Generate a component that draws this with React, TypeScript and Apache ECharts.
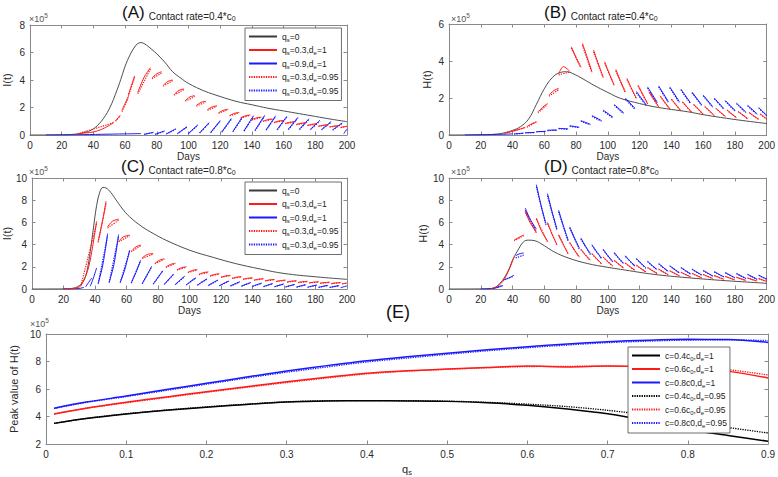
import React, { useEffect, useRef } from "react";
import * as echarts from "echarts";

const FONT = "Liberation Sans, Arial, sans-serif";

// ---------- axis ranges / ticks ----------
const DAY_RANGE = [0, 200, 20];
const Q_RANGE = [0, 0.9, 0.1];
const Y_RANGES = [
  [0, 8, 2],
  [0, 6, 2],
  [0, 10, 2],
  [0, 10, 2],
  [2, 10, 2],
];
const Y_NAMES = ["I(t)", "H(t)", "I(t)", "H(t)", "Peak value of H(t)"];
const Q_TICK_LABELS = ["0", "0.1", "0.2", "0.3", "0.4", "0.5", "0.6", "0.7", "0.8", "0.9"];

// ---------- legend labels ----------
const LEGEND_TOP = ["q_s=0", "q_s=0.3,d_e=1", "q_s=0.9,d_e=1", "q_s=0.3,d_e=0.95", "q_s=0.3,d_e=0.95"];
const LEGEND_E = ["c=0.4c_0,d_e=1", "c=0.6c_0,d_e=1", "c=0.8c0,d_e=1", "c=0.4c_0,d_e=0.95", "c=0.6c_0,d_e=0.95", "c=0.8c0,d_e=0.95"];

// ---------- (A) I(t), contact 0.4c0  (values x1e5) ----------
const A_BLACK = [[0,0],[20,0.01],[30,0.08],[35,0.2],[40,0.45],[45,1.0],[50,1.9],[55,3.3],[58,4.3],[60,5.0],[63,5.8],[66,6.4],[68,6.65],[70,6.72],[72,6.65],[75,6.4],[80,5.9],[85,5.3],[90,4.6],[95,4.15],[100,3.75],[110,3.2],[120,2.8],[130,2.45],[140,2.2],[150,1.95],[160,1.75],[170,1.55],[180,1.35],[190,1.15],[200,0.97]];
const A_RED = [
  [30,0.1,35,0.15,40,0.22,45,0.4,50,0.7,53,0.95],
  [54,1.05,56,1.3,57,1.45],
  [58,1.8,60,2.3,62,2.8],
  [62,2.9,64,3.6,66,4.3],
  [68,3.1,72,4.2,76,4.9],
  [77,4.15,80,4.45,83,4.6],
  [84,3.6,87,3.9,90,4.0],
  [91,2.95,94,3.25,97,3.35],
  [98,2.5,101,2.78,104,2.85],
  [105,2.15,108,2.38,111,2.45],
  [112,1.85,115,2.05,118,2.12],
  [119,1.62,122,1.8,125,1.87],
  [126,1.42,129,1.58,132,1.64],
  [133,1.26,136,1.4,139,1.46],
  [140,1.12,143,1.25,146,1.3],
  [147,1.0,150,1.12,153,1.17],
  [154,0.92,157,1.02,160,1.06],
  [161,0.84,164,0.93,167,0.97],
  [168,0.77,171,0.85,174,0.89],
  [175,0.7,178,0.78,181,0.82],
  [182,0.64,185,0.71,188,0.75],
  [189,0.59,192,0.65,195,0.68],
  [196,0.55,198,0.6,200,0.64],
];
const A_BLUE = [
  [10,0,30,0.02,45,0.05,60,0.08,70,0.1],
  [72,0.05,78,0.2],
  [79,0.05,85,0.3],
  [86,0.08,92,0.45],
  [93,0.1,99,0.6],
  [100,0.12,106,0.75],
  [107,0.15,113,0.9],
  [114,0.18,120,1.05],
  [121,0.22,127,1.2],
  [128,0.26,134,1.32],
  [135,0.3,141,1.4],
  [142,0.34,148,1.42],
  [149,0.38,155,1.4],
  [156,0.4,162,1.35],
  [163,0.42,169,1.28],
  [170,0.42,176,1.18],
  [177,0.42,183,1.08],
  [184,0.4,190,0.98],
  [191,0.38,197,0.88],
  [198,0.1,200,0.45],
];
const A_RED_DOT = [[30,0.08,53,0.9],[54,1.0,57,1.4],[58,1.7,62,2.7],[62,2.8,66,4.2],[68,3.0,76,4.8],[77,4.1,83,4.5],[84,3.55,90,3.95],[91,2.9,97,3.3],[98,2.45,104,2.8],[105,2.1,111,2.4],[112,1.8,118,2.08],[119,1.58,125,1.84],[126,1.39,132,1.62],[133,1.23,139,1.44],[140,1.1,146,1.28],[147,0.98,153,1.15],[154,0.9,160,1.04],[161,0.82,167,0.95],[168,0.75,174,0.87],[175,0.69,181,0.8],[182,0.63,188,0.73],[189,0.58,195,0.67],[196,0.54,200,0.62]];
const A_BLUE_DOT = [[72,0.04,78,0.18],[79,0.05,85,0.28],[86,0.07,92,0.42],[93,0.09,99,0.57],[100,0.11,106,0.72],[107,0.14,113,0.86],[114,0.17,120,1.0],[121,0.2,127,1.14],[128,0.24,134,1.26],[135,0.28,141,1.34],[142,0.32,148,1.37],[149,0.35,155,1.35],[156,0.37,162,1.3],[163,0.39,169,1.22],[170,0.39,176,1.13],[177,0.39,183,1.03],[184,0.38,190,0.93],[191,0.36,197,0.84]];

// ---------- (B) H(t), contact 0.4c0 ----------
const B_BLACK = [[0,0],[20,0.01],[30,0.05],[35,0.12],[40,0.25],[45,0.45],[50,0.85],[55,1.65],[60,2.5],[65,3.1],[70,3.38],[74,3.42],[78,3.32],[85,3.0],[91,2.7],[100,2.3],[108,1.98],[120,1.7],[129,1.53],[140,1.38],[150,1.26],[160,1.1],[171,0.95],[185,0.78],[200,0.62]];
const B_RED = [
  [35,0.1,40,0.2,45,0.32,48,0.42],
  [49,0.45,52,0.6,55,0.72],
  [56,1.25,59,1.5,62,1.7],
  [63,2.16,66,2.4,69,2.52],
  [69,3.3,72,3.7,76,3.45],
  [77,4.77,80,4.2,83,3.69],
  [84,4.96,87,4.2,90,3.42],
  [91,4.6,94,3.85,97,3.15],
  [98,3.96,101,3.3,104,2.7],
  [105,3.55,108,2.9,111,2.34],
  [112,3.06,115,2.5,118,1.98],
  [119,2.7,122,2.2,125,1.71],
  [126,2.34,129,1.92,132,1.53],
  [133,2.12,136,1.76,139,1.42],
  [140,1.95,143,1.62,146,1.32],
  [147,1.8,150,1.5,153,1.22],
  [154,1.66,157,1.4,160,1.13],
  [161,1.55,164,1.3,167,1.06],
  [168,1.45,171,1.22,174,1.0],
  [175,1.36,178,1.14,181,0.94],
  [182,1.28,185,1.08,188,0.89],
  [189,1.22,192,1.02,195,0.85],
  [196,1.15,198,1.0,200,0.86],
];
const B_BLUE = [
  [10,0,30,0.03,40,0.06],
  [41,0.06,47,0.1],
  [48,0.12,54,0.14],
  [55,0.18,61,0.2],
  [62,0.26,68,0.27],
  [69,0.36,75,0.33],
  [76,0.5,82,0.42],
  [83,0.78,89,0.58],
  [90,1.05,96,0.78],
  [97,1.35,103,0.98],
  [104,1.65,110,1.2],
  [111,2.0,117,1.45],
  [118,2.35,124,1.65],
  [125,2.6,131,1.78],
  [132,2.65,138,1.82],
  [139,2.6,145,1.8],
  [146,2.48,152,1.74],
  [153,2.32,159,1.64],
  [160,2.16,166,1.54],
  [167,2.0,173,1.43],
  [174,1.86,180,1.33],
  [181,1.72,187,1.23],
  [188,1.6,194,1.14],
  [195,1.48,200,1.06],
];
const B_RED_DOT = [[35,0.1,48,0.4],[49,0.42,55,0.7],[56,1.2,62,1.65],[63,2.1,69,2.45],[69,3.25,76,3.4],[77,4.7,83,3.62],[84,4.85,90,3.35],[91,4.5,97,3.1],[98,3.88,104,2.66],[105,3.47,111,2.3],[112,3.0,118,1.95],[119,2.64,125,1.68],[126,2.3,132,1.5],[133,2.08,139,1.4],[140,1.92,146,1.3],[147,1.77,153,1.2],[154,1.64,160,1.12],[161,1.53,167,1.05],[168,1.43,174,0.99],[175,1.34,181,0.93],[182,1.26,188,0.88],[189,1.2,195,0.84],[196,1.13,200,0.85]];
const B_BLUE_DOT = [[41,0.05,47,0.09],[48,0.11,54,0.13],[55,0.17,61,0.19],[62,0.24,68,0.25],[69,0.34,75,0.31],[76,0.47,82,0.4],[83,0.74,89,0.55],[90,1.0,96,0.74],[97,1.3,103,0.94],[104,1.6,110,1.15],[111,1.94,117,1.4],[118,2.28,124,1.6],[125,2.54,131,1.73],[132,2.6,138,1.77],[139,2.55,145,1.76],[146,2.43,152,1.7],[153,2.28,159,1.6],[160,2.12,166,1.5],[167,1.96,173,1.4],[174,1.82,180,1.3],[181,1.69,187,1.2],[188,1.57,194,1.11],[195,1.45,200,1.04]];

// ---------- (C) I(t), contact 0.8c0 ----------
const C_BLACK = [[0,0],[20,0.01],[25,0.05],[30,0.3],[33,0.8],[35,1.7],[37,3.4],[39,5.5],[41,7.5],[43,8.7],[45,9.15],[47,9.1],[50,8.7],[53,8.1],[57,7.3],[62,6.5],[70,5.6],[77,5.0],[85,4.4],[100,3.5],[115,2.85],[129,2.3],[145,1.8],[160,1.4],[180,1.1],[200,0.87]];
const C_RED = [
  [20,0.01,27,0.05,31,0.3,36,2.0,41,6.1],
  [42,4.3,45,6.3,47,7.9],
  [48,5.6,51,6.1,55,6.3],
  [55,4.3,58,4.7,62,4.85],
  [63,3.4,66,3.8,69,3.95],
  [70,2.8,73,3.1,77,3.2],
  [78,2.3,81,2.6,84,2.72],
  [85,1.98,88,2.22,91,2.32],
  [92,1.72,95,1.92,98,2.0],
  [99,1.5,102,1.68,105,1.75],
  [106,1.32,109,1.48,112,1.54],
  [113,1.18,116,1.32,119,1.37],
  [120,1.06,123,1.18,126,1.23],
  [127,0.96,130,1.07,133,1.11],
  [134,0.88,137,0.97,140,1.01],
  [141,0.8,144,0.89,147,0.93],
  [148,0.74,151,0.82,154,0.86],
  [155,0.68,158,0.76,161,0.8],
  [162,0.63,165,0.71,168,0.74],
  [169,0.59,172,0.66,175,0.69],
  [176,0.55,179,0.62,182,0.65],
  [183,0.52,186,0.58,189,0.61],
  [190,0.49,193,0.55,196,0.58],
  [197,0.47,199,0.52,200,0.54],
];
const C_BLUE = [
  [20,0,30,0.05,33,0.15],
  [34,0.2,36,0.6,38,1.0],
  [37,0.25,39,1.0,41,1.9],
  [42,0.5,45,2.2,48,5.0],
  [49,0.6,52,2.2,55,4.9],
  [56,0.6,59,1.8,62,3.5],
  [63,0.55,66,1.5,69,2.6],
  [70,0.5,73,1.25,76,2.05],
  [77,0.45,80,1.05,83,1.65],
  [84,0.42,87,0.9,90,1.36],
  [91,0.4,94,0.8,97,1.16],
  [98,0.37,101,0.72,104,1.02],
  [105,0.34,108,0.65,111,0.9],
  [112,0.32,115,0.58,118,0.8],
  [119,0.3,122,0.53,125,0.72],
  [126,0.28,129,0.48,132,0.65],
  [133,0.26,136,0.44,139,0.59],
  [140,0.24,143,0.4,146,0.54],
  [147,0.22,150,0.37,153,0.5],
  [154,0.2,157,0.34,160,0.46],
  [161,0.19,164,0.31,167,0.42],
  [168,0.17,171,0.29,174,0.39],
  [175,0.16,178,0.27,181,0.36],
  [182,0.15,185,0.25,188,0.33],
  [189,0.14,192,0.23,195,0.31],
  [196,0.12,198,0.2,200,0.28],
];
const C_RED_DOT = [[31,0.3,41,5.9],[42,4.2,47,7.7],[48,5.5,55,6.2],[55,4.25,62,4.8],[63,3.35,69,3.9],[70,2.76,77,3.15],[78,2.27,84,2.68],[85,1.95,91,2.28],[92,1.7,98,1.97],[99,1.48,105,1.72],[106,1.3,112,1.51],[113,1.16,119,1.35],[120,1.05,126,1.21],[127,0.95,133,1.09],[134,0.87,140,0.99],[141,0.79,147,0.91],[148,0.73,154,0.84],[155,0.67,161,0.78],[162,0.62,168,0.72],[169,0.58,175,0.67],[176,0.54,182,0.63],[183,0.51,189,0.6],[190,0.48,196,0.57],[197,0.46,200,0.53]];
const C_BLUE_DOT = [[42,0.48,48,4.8],[49,0.58,55,4.8],[56,0.58,62,3.45],[63,0.53,69,2.55],[70,0.48,76,2.0],[77,0.44,83,1.62],[84,0.41,90,1.33],[91,0.39,97,1.14],[98,0.36,104,1.0],[105,0.33,111,0.88],[112,0.31,118,0.78],[119,0.29,125,0.7],[126,0.27,132,0.63],[133,0.25,139,0.57],[140,0.23,146,0.52],[147,0.21,153,0.48],[154,0.2,160,0.45],[161,0.18,167,0.41],[168,0.17,174,0.38],[175,0.16,181,0.35],[182,0.15,188,0.32],[189,0.14,195,0.3]];

// ---------- (D) H(t), contact 0.8c0 ----------
const D_BLACK = [[0,0],[20,0.01],[27,0.05],[32,0.5],[37,1.56],[40,2.6],[43,3.4],[47,4.26],[50,4.4],[54,4.35],[60,3.9],[66,3.36],[75,2.8],[87,2.3],[100,1.95],[108,1.77],[129,1.32],[150,1.02],[171,0.78],[185,0.65],[200,0.51]];
const D_RED = [
  [26,0.02,30,0.2,34,0.7,38,1.8,41,2.9],
  [41,4.4,44,4.65,47,4.85],
  [48,7.0,51,6.0,55,5.1],
  [55,6.4,58,5.3,62,4.3],
  [62,6.0,65,4.9,68,4.0],
  [69,4.9,72,4.0,75,3.2],
  [76,4.2,79,3.5,82,2.9],
  [83,3.6,86,3.05,89,2.6],
  [90,3.2,93,2.72,96,2.3],
  [97,2.9,100,2.46,103,2.1],
  [104,2.6,107,2.22,110,1.9],
  [111,2.35,114,2.0,117,1.7],
  [118,2.15,121,1.82,124,1.55],
  [125,1.95,128,1.66,131,1.42],
  [132,1.8,135,1.53,138,1.3],
  [139,1.65,142,1.41,145,1.2],
  [146,1.52,149,1.3,152,1.1],
  [153,1.42,156,1.21,159,1.02],
  [160,1.32,163,1.12,166,0.95],
  [167,1.22,170,1.04,173,0.88],
  [174,1.14,177,0.97,180,0.82],
  [181,1.07,184,0.91,187,0.77],
  [188,1.0,191,0.85,194,0.72],
  [195,0.95,198,0.78,200,0.7],
];
const D_BLUE = [
  [20,0,28,0.05,32,0.2,34,0.3],
  [34,0.8,37,0.95,41,1.25],
  [42,3.0,44,3.15,47,3.25],
  [48,7.3,51,6.3,55,5.4],
  [55,9.4,58,7.5,61,5.9],
  [62,8.6,65,6.9,68,5.4],
  [69,7.1,72,5.7,75,4.4],
  [76,5.6,79,4.6,82,3.7],
  [83,4.6,86,3.85,89,3.2],
  [90,4.0,93,3.35,96,2.8],
  [97,3.6,100,3.0,103,2.5],
  [104,3.3,107,2.75,110,2.3],
  [111,3.0,114,2.5,117,2.1],
  [118,2.75,121,2.3,124,1.9],
  [125,2.5,128,2.1,131,1.75],
  [132,2.3,135,1.93,138,1.6],
  [139,2.1,142,1.77,145,1.48],
  [146,1.95,149,1.65,152,1.38],
  [153,1.8,156,1.52,159,1.28],
  [160,1.68,163,1.42,166,1.18],
  [167,1.57,170,1.32,173,1.1],
  [174,1.48,177,1.24,180,1.02],
  [181,1.4,184,1.17,187,0.95],
  [188,1.32,191,1.1,194,0.88],
  [195,1.25,198,1.02,200,0.9],
];
const D_RED_DOT = [[41,4.35,47,4.8],[48,6.9,55,5.05],[55,6.3,62,4.25],[62,5.9,68,3.95],[69,4.85,75,3.15],[76,4.15,82,2.85],[83,3.55,89,2.55],[90,3.15,96,2.26],[97,2.86,103,2.06],[104,2.56,110,1.87],[111,2.32,117,1.67],[118,2.12,124,1.53],[125,1.92,131,1.4],[132,1.77,138,1.28],[139,1.63,145,1.18],[146,1.5,152,1.09],[153,1.4,159,1.0],[160,1.3,166,0.94],[167,1.2,173,0.87],[174,1.12,180,0.81],[181,1.05,187,0.76],[188,0.98,194,0.71],[195,0.93,200,0.69]];
const D_BLUE_DOT = [[28,0.05,34,0.35],[35,0.85,41,1.15],[42,2.8,47,3.05],[48,7.1,55,5.2],[55,9.2,61,5.75],[62,8.4,68,5.25],[69,6.95,75,4.3],[76,5.5,82,3.6],[83,4.5,89,3.1],[90,3.92,96,2.74],[97,3.53,103,2.45],[104,3.23,110,2.25],[111,2.94,117,2.06],[118,2.7,124,1.86],[125,2.45,131,1.72],[132,2.25,138,1.57],[139,2.06,145,1.45],[146,1.91,152,1.35],[153,1.77,159,1.25],[160,1.65,166,1.16],[167,1.54,173,1.08],[174,1.45,180,1.0],[181,1.37,187,0.93],[188,1.3,194,0.87],[195,1.23,200,0.88]];

// ---------- (E) peak of H(t) vs q_s ----------
const QS = [0.01,0.05,0.1,0.15,0.2,0.25,0.3,0.35,0.4,0.45,0.5,0.55,0.6,0.65,0.7,0.75,0.8,0.85,0.9];
const E_C04 = [3.5,3.85,4.18,4.45,4.67,4.88,5.05,5.13,5.15,5.13,5.1,5.0,4.82,4.55,4.2,3.68,3.05,2.62,2.2];
const E_C06 = [4.18,4.6,5.03,5.42,5.8,6.17,6.53,6.85,7.14,7.32,7.45,7.57,7.67,7.6,7.67,7.62,7.5,7.3,6.8];
const E_C08 = [4.6,5.05,5.49,5.96,6.41,6.87,7.31,7.7,8.06,8.35,8.6,8.85,9.08,9.27,9.44,9.55,9.61,9.6,9.39];
const E_C04_DOT = [3.5,3.86,4.2,4.47,4.7,4.9,5.07,5.15,5.16,5.15,5.12,5.03,4.9,4.72,4.45,4.1,3.6,3.2,2.8];
const E_C06_DOT = [4.18,4.6,5.0,5.38,5.76,6.12,6.47,6.8,7.1,7.3,7.43,7.55,7.63,7.65,7.66,7.62,7.55,7.4,7.02];
const E_C08_DOT = [4.58,5.02,5.45,5.9,6.35,6.8,7.22,7.6,7.97,8.25,8.52,8.78,9.0,9.2,9.37,9.48,9.56,9.58,9.52];

// ---------- layout ----------
const GRIDS = [
  { left: 27, top: 25, width: 320, height: 110 },
  { left: 449, top: 24, width: 320, height: 111 },
  { left: 27, top: 178, width: 320, height: 111 },
  { left: 449, top: 178, width: 320, height: 111 },
  { left: 27, top: 334, width: 743, height: 110 },
];
const Y_NAME_GAPS = [10, 9, 12, 12, 13];

const AX = "#8a8a8a";
const LBL = "#2a2a2a";
const BLACK = "#3a3a3a";
const RED = "#ff1a1a";
const BLUE = "#1a1aff";

function segData(segs: number[][]) {
  const out: any[] = [];
  segs.forEach((s) => {
    for (let i = 0; i < s.length; i += 2) out.push([s[i], s[i + 1]]);
    out.push([s[s.length - 2], null]);
  });
  return out;
}

const toRich = (t: string) =>
  t
    .split(/_(.)/)
    .map((p, i) => (i % 2 ? `{s|${p}}` : p ? `{n|${p}}` : ""))
    .join("");

const RICH_LEG = {
  n: { fontSize: 8.5, lineHeight: 12, fontFamily: FONT, color: "#222" },
  s: { fontSize: 6, lineHeight: 6, verticalAlign: "bottom", fontFamily: FONT, color: "#222" },
};

function buildOption() {
  const xAxis: any[] = [];
  const yAxis: any[] = [];
  GRIDS.forEach((g, i) => {
    const xr = i < 4 ? DAY_RANGE : Q_RANGE;
    const yr = Y_RANGES[i];
    const base = {
      type: "value",
      gridIndex: i,
      axisLine: { show: true, onZero: false, lineStyle: { color: AX, width: 1 } },
      axisTick: { show: true, inside: true, length: 3.5, lineStyle: { color: AX, width: 1 } },
      splitLine: { show: false },
    };
    xAxis.push({
      ...base,
      min: xr[0],
      max: xr[1],
      interval: xr[2],
      position: "bottom",
      axisLabel: {
        show: true,
        margin: 5,
        fontSize: 10,
        color: LBL,
        fontFamily: FONT,
        formatter: i < 4 ? undefined : (v: number) => Q_TICK_LABELS[Math.round(v * 10)] ?? "",
      },
      name: i < 4 ? "Days" : "{n|q}{s|s}",
      nameLocation: "middle",
      nameGap: i < 4 ? 16 : 18,
      nameTextStyle: {
        fontSize: 10,
        color: LBL,
        fontFamily: FONT,
        rich: {
          n: { fontSize: 11, lineHeight: 14, color: LBL, fontFamily: FONT },
          s: { fontSize: 7.5, lineHeight: 8, verticalAlign: "bottom", color: LBL, fontFamily: FONT },
        },
      },
    });
    xAxis.push({
      ...base,
      min: xr[0],
      max: xr[1],
      interval: xr[2],
      position: "top",
      axisLabel: { show: false },
    });
    yAxis.push({
      ...base,
      min: yr[0],
      max: yr[1],
      interval: yr[2],
      position: "left",
      axisLabel: { show: true, margin: 5, fontSize: 10, color: LBL, fontFamily: FONT },
      name: Y_NAMES[i],
      nameLocation: "middle",
      nameGap: Y_NAME_GAPS[i] + 8,
      nameTextStyle: { fontSize: 11, color: LBL, fontFamily: FONT },
    });
    yAxis.push({
      ...base,
      min: yr[0],
      max: yr[1],
      interval: yr[2],
      position: "right",
      axisLabel: { show: false },
    });
  });

  const series: any[] = [];
  const line = (name: string, gi: number, data: any[], color: string, width: number, dotted: boolean, smooth = 0.3) => ({
    type: "line",
    name,
    xAxisIndex: gi * 2,
    yAxisIndex: gi * 2,
    data,
    symbol: "none",
    showSymbol: false,
    smooth,
    connectNulls: false,
    lineStyle: { color, width, type: dotted ? [1.3, 1.1] : "solid" },
    itemStyle: { color },
    emphasis: { disabled: true },
    silent: true,
  });

  const panels = [
    [A_BLACK, A_RED, A_BLUE, A_RED_DOT, A_BLUE_DOT],
    [B_BLACK, B_RED, B_BLUE, B_RED_DOT, B_BLUE_DOT],
    [C_BLACK, C_RED, C_BLUE, C_RED_DOT, C_BLUE_DOT],
    [D_BLACK, D_RED, D_BLUE, D_RED_DOT, D_BLUE_DOT],
  ];
  const tags = ["A", "B", "C", "D"];
  panels.forEach((p, gi) => {
    const t = tags[gi];
    series.push(line(`${t}0`, gi, p[0] as any[], BLACK, 0.9, false, 0.4));
    series.push(line(`${t}2`, gi, segData(p[2] as number[][]), BLUE, 1, false));
    series.push(line(`${t}4`, gi, segData(p[4] as number[][]), BLUE, 1.2, true));
    series.push(line(`${t}1`, gi, segData(p[1] as number[][]), RED, 1, false));
    series.push(line(`${t}3`, gi, segData(p[3] as number[][]), RED, 1.2, true));
  });
  const eData = (arr: number[]) => QS.map((q, i) => [q, arr[i]]);
  series.push(line("E0", 4, eData(E_C04), "#000", 1.5, false));
  series.push(line("E1", 4, eData(E_C06), RED, 1.5, false));
  series.push(line("E2", 4, eData(E_C08), BLUE, 1.5, false));
  series.push(line("E3", 4, eData(E_C04_DOT), "#000", 1.3, true));
  series.push(line("E4", 4, eData(E_C06_DOT), RED, 1.3, true));
  series.push(line("E5", 4, eData(E_C08_DOT), BLUE, 1.3, true));

  const labelMap: Record<string, string> = {};
  ["A", "C"].forEach((t) => LEGEND_TOP.forEach((l, i) => (labelMap[`${t}${i}`] = l)));
  LEGEND_E.forEach((l, i) => (labelMap[`E${i}`] = l));

  const legendBase = {
    orient: "vertical",
    borderColor: "#4a4a4a",
    borderWidth: 0.8,
    backgroundColor: "#fff",
    itemWidth: 28,
    itemHeight: 9,
    itemGap: 3,
    padding: [4, 3, 4, 3],
    selectedMode: false,
    itemStyle: { opacity: 0 },
    formatter: (n: string) => toRich(labelMap[n] || n),
    textStyle: { fontSize: 8.5, fontFamily: FONT, color: "#222", rich: RICH_LEG },
    z: 10,
  };
  const legend = [
    { ...legendBase, left: 245, top: 28, data: ["A0", "A1", "A2", "A3", "A4"] },
    { ...legendBase, left: 245, top: 182, data: ["C0", "C1", "C2", "C3", "C4"] },
    { ...legendBase, left: 628, top: 347, data: ["E0", "E1", "E2", "E3", "E4", "E5"] },
  ];

  const titleRich = {
    big: { fontSize: 17, lineHeight: 20, fontFamily: FONT, fill: "#111" },
    sm: { fontSize: 10, lineHeight: 14, verticalAlign: "bottom", fontFamily: FONT, fill: "#222", padding: [0, 0, 1, 4] },
    sub: { fontSize: 7, lineHeight: 8, verticalAlign: "bottom", fontFamily: FONT, fill: "#222" },
  };
  const titles = [
    { x: 122, y: 2, t: "(A)", c: "0.4" },
    { x: 544, y: 2, t: "(B)", c: "0.4" },
    { x: 121, y: 156, t: "(C)", c: "0.8" },
    { x: 544, y: 156, t: "(D)", c: "0.8" },
  ];
  const expRich = {
    n: { fontSize: 9, lineHeight: 11, verticalAlign: "bottom", fontFamily: FONT, fill: "#555" },
    p: { fontSize: 6.5, lineHeight: 7, verticalAlign: "top", fontFamily: FONT, fill: "#555" },
  };
  const exps = [
    { x: 29, y: 12 },
    { x: 451, y: 12 },
    { x: 29, y: 165 },
    { x: 451, y: 165 },
    { x: 30, y: 317 },
  ];
  const graphic: any[] = [];
  titles.forEach((t) =>
    graphic.push({
      type: "text",
      x: t.x,
      y: t.y,
      silent: true,
      style: { text: `{big|${t.t}}{sm|Contact rate=${t.c}*c}{sub|0}`, rich: titleRich },
    })
  );
  graphic.push({
    type: "text",
    x: 386,
    y: 303,
    silent: true,
    style: { text: "(E)", fontSize: 18, fontFamily: FONT, fill: "#111" },
  });
  exps.forEach((e) =>
    graphic.push({
      type: "text",
      x: e.x,
      y: e.y,
      silent: true,
      style: { text: "{n|×10}{p|5}", rich: expRich },
    })
  );

  return {
    animation: false,
    backgroundColor: "#fff",
    grid: GRIDS.map((g) => ({ ...g, containLabel: false })),
    xAxis,
    yAxis,
    series,
    legend,
    graphic,
  };
}

export default function App() {
  const ref = useRef<HTMLDivElement>(null);
  useEffect(() => {
    const chart = echarts.init(ref.current as HTMLDivElement, null, { renderer: "svg" });
    chart.setOption(buildOption() as any);
    return () => chart.dispose();
  }, []);
  return (
    <div
      ref={ref}
      style={{ position: "absolute", left: 0, top: 0, width: 778, height: 477, background: "#fff" }}
    />
  );
}
